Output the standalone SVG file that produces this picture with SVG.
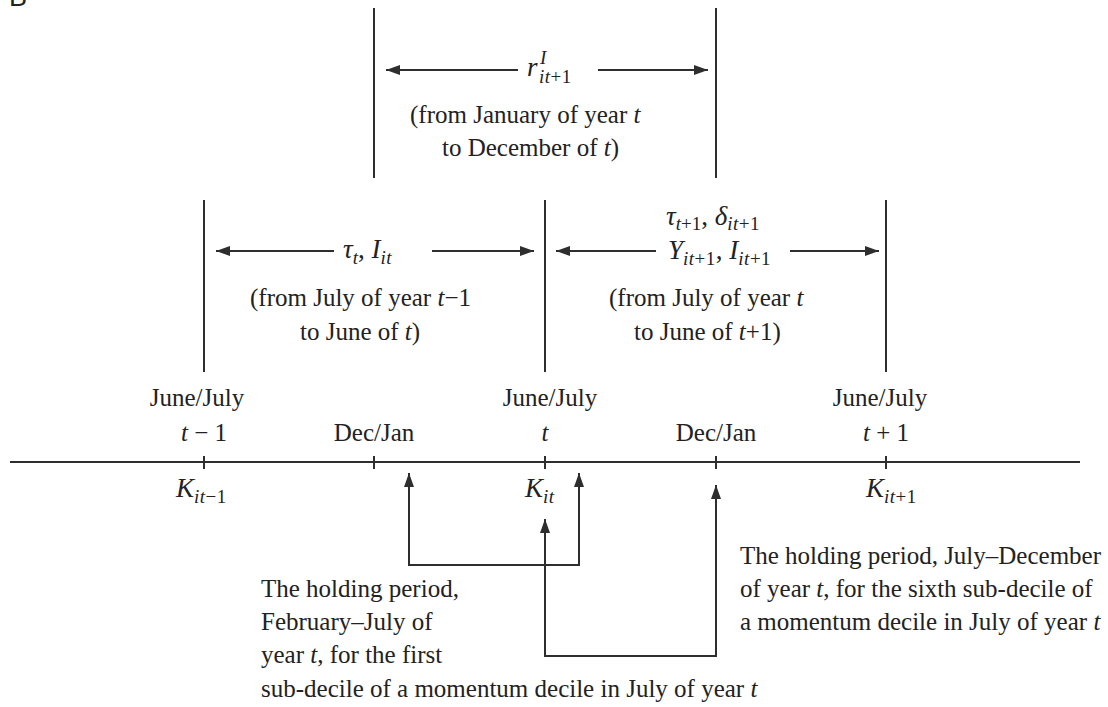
<svg xmlns="http://www.w3.org/2000/svg" width="1108" height="707" viewBox="0 0 1108 707">
<style>
.ln{stroke:#2e2e2e;stroke-width:2;fill:none}
.ar{stroke:#2e2e2e;stroke-width:2;fill:none;marker-end:url(#ah)}
text{font-family:"Liberation Serif","Times New Roman",serif;font-size:25px;fill:#222}
.c{text-anchor:middle}
.i{font-style:italic}
.m{font-style:italic;font-size:27px}
.s{font-size:19px}
.n{font-style:normal}
</style>
<defs>
<marker id="ah" viewBox="0 0 14 10" refX="14" refY="5" markerWidth="14" markerHeight="10" markerUnits="userSpaceOnUse" orient="auto-start-reverse">
<path d="M0,0 L14,5 L0,10 z" fill="#2e2e2e"/>
</marker>
</defs>
<rect width="1108" height="707" fill="#fff"/>
<text x="9" y="6" style="font-family:'Liberation Sans',Arial,sans-serif;font-size:27px">B</text>

<g id="top-period">
<line class="ln" x1="374" y1="8" x2="374" y2="178"/>
<line class="ln" x1="716" y1="8" x2="716" y2="178"/>
<text x="527" y="76" class="m">r</text>
<text x="540" y="64" class="i s">I</text>
<text x="539" y="83" class="i s" letter-spacing="0.5">it<tspan class="n">+1</tspan></text>
<text x="410" y="123">(from January of year <tspan class="i">t</tspan></text>
<text x="442" y="156">to December of <tspan class="i">t</tspan>)</text>
</g>

<g id="left-period">
<line class="ln" x1="204" y1="200" x2="204" y2="372"/>
<line class="ln" x1="545" y1="200" x2="545" y2="372"/>
<text x="343" y="258" class="m">τ<tspan class="s" dy="6">t</tspan><tspan class="n" dy="-6">, </tspan>I<tspan class="s" dy="6" letter-spacing="0.5">it</tspan></text>
<text x="250" y="306">(from July of year <tspan class="i">t</tspan>−1</text>
<text x="300" y="340">to June of <tspan class="i">t</tspan>)</text>
</g>

<g id="right-period">
<line class="ln" x1="886" y1="200" x2="886" y2="372"/>
<text x="666" y="225" class="m">τ<tspan class="s" dy="5">t<tspan class="n">+1</tspan></tspan><tspan class="n" dy="-5">, </tspan>δ<tspan class="s" dy="5" letter-spacing="0.5">it<tspan class="n">+1</tspan></tspan></text>
<text x="668" y="259" class="m">Y<tspan class="s" dy="6" letter-spacing="0.5">it<tspan class="n">+1</tspan></tspan><tspan class="n" dy="-6">, </tspan>I<tspan class="s" dy="6" letter-spacing="0.5">it<tspan class="n">+1</tspan></tspan></text>
<text x="609" y="306">(from July of year <tspan class="i">t</tspan></text>
<text x="634" y="340">to June of <tspan class="i">t</tspan>+1)</text>
</g>

<g id="axis">
<line class="ln" x1="10" y1="462" x2="1080" y2="462"/>
<line class="ln" x1="204" y1="456" x2="204" y2="469"/>
<line class="ln" x1="374" y1="456" x2="374" y2="469"/>
<line class="ln" x1="545" y1="456" x2="545" y2="469"/>
<line class="ln" x1="716" y1="456" x2="716" y2="469"/>
<line class="ln" x1="886" y1="456" x2="886" y2="469"/>
<text x="197" y="406" class="c">June/July</text>
<text x="204" y="441" class="c"><tspan class="i">t</tspan> − 1</text>
<text x="374" y="441" class="c">Dec/Jan</text>
<text x="550" y="406" class="c">June/July</text>
<text x="545" y="441" class="c i">t</text>
<text x="716" y="441" class="c">Dec/Jan</text>
<text x="880" y="406" class="c">June/July</text>
<text x="886" y="441" class="c"><tspan class="i">t</tspan> + 1</text>
<text x="176" y="497" class="m">K<tspan class="s" dy="6" letter-spacing="0.5">it<tspan class="n">−1</tspan></tspan></text>
<text x="525" y="497" class="m">K<tspan class="s" dy="6" letter-spacing="0.5">it</tspan></text>
<text x="866" y="497" class="m">K<tspan class="s" dy="6" letter-spacing="0.5">it<tspan class="n">+1</tspan></tspan></text>
</g>

<g id="connectors">
<line class="ar" x1="518" y1="70" x2="386" y2="70"/>
<line class="ar" x1="598" y1="70" x2="708" y2="70"/>
<line class="ar" x1="334" y1="251" x2="216" y2="251"/>
<line class="ar" x1="432" y1="251" x2="534" y2="251"/>
<line class="ar" x1="656" y1="251" x2="556" y2="251"/>
<line class="ar" x1="790" y1="251" x2="879" y2="251"/>
<path class="ln" d="M409,473 V565 H579 V473" marker-start="url(#ah)" marker-end="url(#ah)"/>
<path class="ln" d="M545,519 V656 H716 V485" marker-start="url(#ah)" marker-end="url(#ah)"/>
</g>

<g id="notes">
<text x="740" y="564">The holding period, July–December</text>
<text x="740" y="597">of year <tspan class="i">t</tspan>, for the sixth sub-decile of</text>
<text x="740" y="630">a momentum decile in July of year <tspan class="i">t</tspan></text>
<text x="261" y="597">The holding period,</text>
<text x="261" y="630">February–July of</text>
<text x="261" y="663">year <tspan class="i">t</tspan>, for the first</text>
<text x="261" y="697">sub-decile of a momentum decile in July of year <tspan class="i">t</tspan></text>
</g>
</svg>
